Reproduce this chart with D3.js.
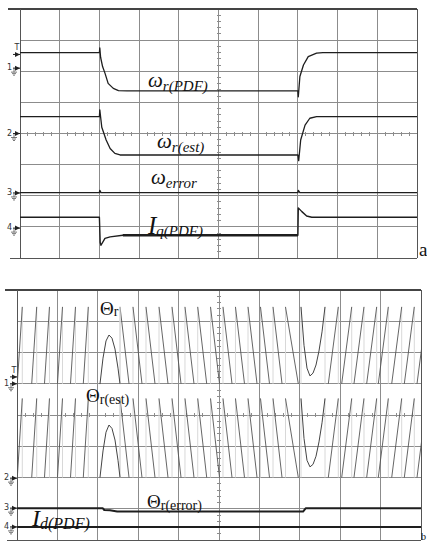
<!DOCTYPE html>
<html>
<head>
<meta charset="utf-8">
<script src="https://cdn.jsdelivr.net/npm/d3@7"></script>
<style>
  body { margin: 0; background: #fff; }
  svg { display: block; }
</style>
</head>
<body>
<svg id="chart" width="427" height="542"></svg>
<script>
// all values in scope divisions: time 0..10, level -4..4

// panel a
const wrPdf = [[0, 2.6], [2.0, 2.6], [2.01, 2.75], [2.03, 2.45], [2.08, 2.15], [2.14, 1.94], [2.22, 1.61],
  [2.35, 1.45], [2.48, 1.38], [2.7, 1.37], [7.0, 1.37], [7.01, 1.18], [7.05, 1.83], [7.14, 2.2],
  [7.26, 2.47], [7.47, 2.58], [7.63, 2.6], [10, 2.6]];
const wrEst = [[0, 0.54], [2.0, 0.54], [2.01, 0.76], [2.06, 0.2], [2.17, -0.21], [2.27, -0.48],
  [2.39, -0.64], [2.52, -0.69], [7.0, -0.69], [7.02, -0.87], [7.07, -0.21], [7.18, 0.27],
  [7.3, 0.49], [7.47, 0.54], [10, 0.54]];
const wError = [[0, -1.9], [2.0, -1.9], [2.01, -1.83], [2.04, -1.9], [7.0, -1.9], [7.01, -1.83],
  [7.05, -1.9], [10, -1.9]];
const iqPdf = [[0, -2.69], [2.0, -2.69], [2.02, -3.5], [2.04, -3.59], [2.14, -3.37], [2.27, -3.32],
  [2.59, -3.27], [7.0, -3.27], [7.01, -2.39], [7.1, -2.51], [7.22, -2.65], [7.35, -2.69], [10, -2.69]];
const markersA = [["T", 2.54], ["1", 2.1], ["2", 0], ["3", -1.91], ["4", -3.04]];

// panel b: rotor angle, wrap levels and tooth start/end times
const thetaLevels = [1.0, 3.46];
const thetaEstLevels = [-2.0, 0.53];
const teethUpLeft = [[0.007, 0.131], [0.364, 0.488], [0.68, 0.804], [1.002, 1.126], [1.324, 1.448],
  [1.641, 1.765]];
const teethDown = [[2.55, 2.773], [2.871, 3.094], [3.193, 3.416], [3.515, 3.738], [3.837, 4.06],
  [4.158, 4.381], [4.473, 4.696], [4.79, 5.013], [5.099, 5.322], [5.408, 5.631], [5.718, 5.941],
  [6.027, 6.25], [6.337, 6.56], [6.646, 6.963]];
const teethUpRight = [[7.706, 7.953], [8.037, 8.285], [8.341, 8.589], [8.655, 8.903], [8.943, 9.191],
  [9.275, 9.522], [9.587, 9.834], [9.901, 10.149]];
const thetaPeak = [[2.054, 0.99], [2.129, 1.82], [2.203, 2.37], [2.277, 2.56], [2.351, 2.46],
  [2.426, 2.11], [2.5, 1.5], [2.55, 0.99]];
const thetaValley = [[7.03, 3.46], [7.104, 2.23], [7.178, 1.5], [7.252, 1.25], [7.327, 1.34],
  [7.401, 1.6], [7.475, 2.05], [7.55, 2.66], [7.624, 3.46]];
const thetaEstPeak = [[2.054, -2.0], [2.129, -1.15], [2.203, -0.55], [2.277, -0.32], [2.351, -0.43],
  [2.426, -0.8], [2.5, -1.45], [2.55, -2.0]];
const thetaEstValley = [[7.03, 0.53], [7.104, -0.75], [7.178, -1.45], [7.252, -1.66], [7.327, -1.58],
  [7.401, -1.32], [7.475, -0.86], [7.55, -0.25], [7.624, 0.53]];
const thetaErr = [[0, -2.98], [2.12, -2.98], [2.16, -3.04], [2.3, -3.05], [2.48, -3.09], [7.08, -3.09],
  [7.15, -2.98], [10, -2.98]];
const idPdf = [[0, -3.58], [10, -3.58]];
const markersB = [["T", 1.22], ["1", 1.0], ["2", -2.02], ["3", -2.98], ["4", -3.58]];

const svg = d3.select("#chart");
const gridColor = "#8c8c8c";
const ink = "#1e1e1e";
const serif = "'Liberation Serif', 'DejaVu Serif', serif";

function makePanel(id, x0, x1, y0, y1) {
  const x = d3.scaleLinear().domain([0, 10]).range([x0, x1]);
  const y = d3.scaleLinear().domain([-4, 4]).range([y1, y0]);
  const g = svg.append("g").attr("shape-rendering", "crispEdges");

  // grid
  g.selectAll(".vg").data(d3.range(1, 10)).join("line")
    .attr("x1", d => x(d)).attr("x2", d => x(d))
    .attr("y1", y0).attr("y2", y1)
    .attr("stroke", gridColor);
  g.selectAll(".hg").data(d3.range(-3, 4)).join("line")
    .attr("x1", x0).attr("x2", x1)
    .attr("y1", d => y(d)).attr("y2", d => y(d))
    .attr("stroke", gridColor);

  // minor ticks on the centre cross
  const tx = d3.range(1, 50).map(i => i / 5);
  g.selectAll(".tx").data(tx).join("line")
    .attr("x1", d => x(d)).attr("x2", d => x(d))
    .attr("y1", y(0) - 2).attr("y2", y(0) + 2)
    .attr("stroke", gridColor);
  const ty = d3.range(-19, 20).map(i => i / 5);
  g.selectAll(".ty").data(ty).join("line")
    .attr("x1", x(5) - 2).attr("x2", x(5) + 2)
    .attr("y1", d => y(d)).attr("y2", d => y(d))
    .attr("stroke", gridColor);

  // frame
  g.append("line").attr("x1", x0 - 12).attr("x2", x1).attr("y1", y0).attr("y2", y0)
    .attr("stroke", "#444").attr("stroke-width", 1.5);
  g.append("line").attr("x1", x0 - 10).attr("x2", x1).attr("y1", y1).attr("y2", y1)
    .attr("stroke", "#555");
  g.append("line").attr("x1", x0).attr("x2", x0).attr("y1", y0).attr("y2", y1)
    .attr("stroke", "#555");
  g.append("line").attr("x1", x1).attr("x2", x1).attr("y1", y0).attr("y2", y1)
    .attr("stroke", "#555");

  svg.append("clipPath").attr("id", id)
    .append("rect").attr("x", x0).attr("y", y0).attr("width", x1 - x0).attr("height", y1 - y0);
  const plot = svg.append("g").attr("clip-path", `url(#${id})`);
  return { x, y, plot, x0 };
}

function trace(p, data, width, color) {
  const line = d3.line().x(d => p.x(d[0])).y(d => p.y(d[1]));
  p.plot.append("path").datum(data)
    .attr("fill", "none").attr("stroke", color || ink)
    .attr("stroke-width", width || 1.3)
    .attr("stroke-linejoin", "round")
    .attr("d", line);
}

function markers(p, list) {
  const e = p.x0;
  list.forEach(([lab, v]) => {
    const yy = p.y(v);
    const m = svg.append("g");
    m.append("path")
      .attr("d", `M${e - 5},${yy - 2.5}L${e},${yy}L${e - 5},${yy + 2.5}Z`)
      .attr("fill", "#222");
    m.append("line").attr("x1", e - 7).attr("x2", e).attr("y1", yy).attr("y2", yy)
      .attr("stroke", "#222");
    if (lab === "T") {
      m.append("text").attr("x", e - 3).attr("y", yy - 4)
        .attr("text-anchor", "middle")
        .attr("font-family", "'DejaVu Sans', sans-serif").attr("font-size", 8)
        .attr("fill", "#333").text(lab);
    } else {
      m.append("text").attr("x", e - 8).attr("y", yy + 2)
        .attr("text-anchor", "end")
        .attr("font-family", "'DejaVu Sans', sans-serif").attr("font-size", 8)
        .attr("fill", "#333").text(lab);
      const gx = e - 6;
      m.append("path")
        .attr("d", `M${gx},${yy}V${yy + 4}M${gx - 3},${yy + 4}H${gx + 3}M${gx - 2},${yy + 5.5}H${gx + 2}M${gx - 1},${yy + 7}H${gx + 1}`)
        .attr("stroke", "#555").attr("stroke-width", 0.8).attr("fill", "none");
    }
  });
}

function teeth(p, list, levels, dir) {
  const [lo, hi] = levels;
  // fast wrap edges, drawn faint like on the scope
  p.plot.selectAll(null).data(list).join("line")
    .attr("x1", d => p.x(dir > 0 ? d[1] : d[0])).attr("x2", d => p.x(dir > 0 ? d[1] : d[0]))
    .attr("y1", p.y(lo)).attr("y2", p.y(hi))
    .attr("stroke", "#d8d8d8").attr("stroke-width", 1);
  p.plot.selectAll(null).data(list).join("line")
    .attr("x1", d => p.x(d[0])).attr("x2", d => p.x(d[1]))
    .attr("y1", p.y(dir > 0 ? lo : hi)).attr("y2", p.y(dir > 0 ? hi : lo))
    .attr("stroke", "#555").attr("stroke-width", 0.9);
}

function wrapEdge(p, t, levels) {
  p.plot.append("line")
    .attr("x1", p.x(t)).attr("x2", p.x(t))
    .attr("y1", p.y(levels[0])).attr("y2", p.y(levels[1]))
    .attr("stroke", "#d8d8d8");
}

function label(x, y, main, sub, size, subSize, italicMain, italicSub, subShift) {
  const t = svg.append("text").attr("x", x).attr("y", y)
    .attr("font-family", serif).attr("fill", "#111");
  t.append("tspan").attr("font-size", size)
    .attr("font-style", italicMain ? "italic" : "normal").text(main);
  t.append("tspan").attr("font-size", subSize).attr("dy", subShift)
    .attr("font-style", italicSub ? "italic" : "normal").text(sub);
}

// ---------- panel a ----------
const pa = makePanel("clipA", 20, 417, 9, 258);
trace(pa, wrPdf);
trace(pa, wrEst);
trace(pa, wError, 1.4);
trace(pa, iqPdf, 1.4);
trace(pa, iqPdf.slice(6, 8), 2.4);
markers(pa, markersA);

label(148, 87, "ω", "r(PDF)", 21, 15, true, true, 4);
label(157, 148, "ω", "r(est)", 21, 15, true, true, 4);
label(151, 184, "ω", "error", 21, 15, true, true, 4);
label(148, 234, "I", "q(PDF)", 25, 15, true, true, 2);
svg.append("text").attr("x", 419).attr("y", 256)
  .attr("font-family", serif).attr("font-size", 19).attr("fill", "#111").text("a");

// ---------- panel b ----------
const pb = makePanel("clipB", 17, 421, 290, 540);
[[thetaLevels, thetaPeak, thetaValley], [thetaEstLevels, thetaEstPeak, thetaEstValley]]
  .forEach(([lv, peak, valley]) => {
    teeth(pb, teethUpLeft, lv, 1);
    teeth(pb, teethDown, lv, -1);
    teeth(pb, teethUpRight, lv, 1);
    wrapEdge(pb, peak[peak.length - 1][0], lv);
    wrapEdge(pb, valley[0][0], lv);
    wrapEdge(pb, valley[valley.length - 1][0], lv);
    trace(pb, peak, 1, "#444");
    trace(pb, valley, 1, "#444");
  });
trace(pb, thetaErr, 2);
trace(pb, idPdf, 2);
markers(pb, markersB);

label(100, 315, "Θ", "r", 19, 14, false, false, 1);
label(86, 402, "Θ", "r(est)", 19, 14, false, false, 2);
label(147, 508, "Θ", "r(error)", 19, 14, false, false, 2);
label(32, 526, "I", "d(PDF)", 24, 16, true, true, 3);
svg.append("text").attr("x", 421).attr("y", 540)
  .attr("font-family", serif).attr("font-size", 10).attr("fill", "#111").text("b");
</script>
</body>
</html>
